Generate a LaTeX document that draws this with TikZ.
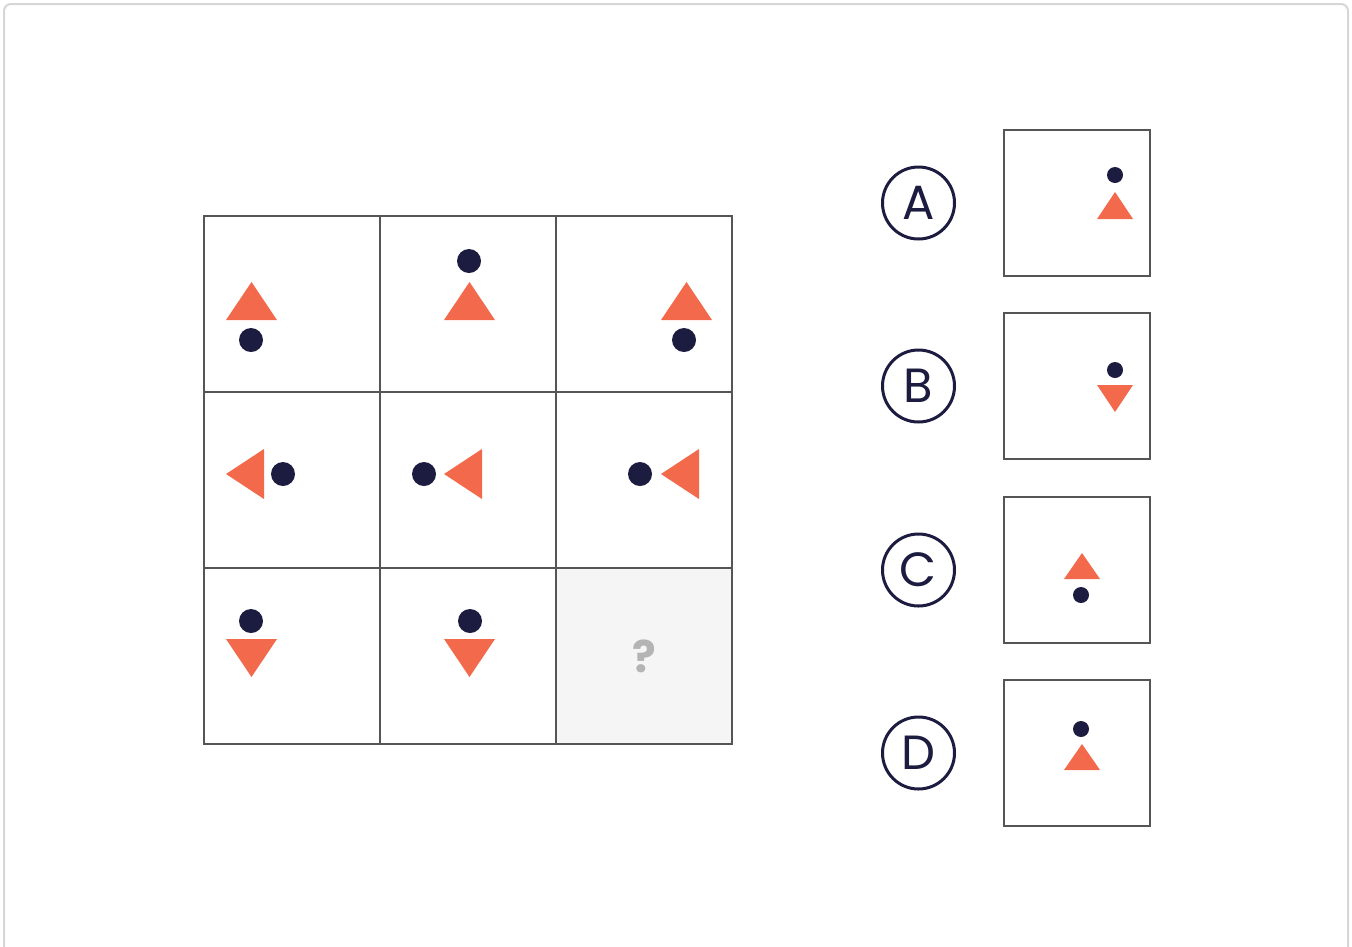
\documentclass[tikz,border=0pt]{standalone}
\usepackage{fontspec}
\setmainfont{Poppins}
\usepackage{xcolor}
\usepackage{tikz}
\usetikzlibrary{positioning, matrix}
\definecolor{cTRI}{HTML}{F26A4B}
\definecolor{cDOT}{HTML}{1C1B40}
\definecolor{cLINE}{HTML}{555555}
\definecolor{cBLANK}{HTML}{F5F5F5}
\definecolor{cMARK}{HTML}{B4B4B4}
\definecolor{cFRAME}{HTML}{D6D6D6}

\begin{document}
\begin{tikzpicture}[x=1pt, y=-1pt,
  tri/.style={fill=cTRI},
  dot/.style={fill=cDOT},
  answerbox/.style={draw=cLINE, line width=2pt, minimum size=146pt, inner sep=0pt},
  letter/.style={circle, draw=cDOT, line width=3pt, minimum size=72pt, inner sep=0pt,
    text=cDOT, font=\fontsize{48}{48}\selectfont},
]
\useasboundingbox (0,0) rectangle (1352,946);
\draw[cFRAME, line width=2pt, rounded corners=7pt] (4,4) rectangle (1348,980);

% puzzle grid
\matrix (grid) [
  matrix of nodes, nodes in empty cells,
  anchor=north west, inner sep=0pt, outer sep=0pt,
  nodes={draw=cLINE, line width=2pt, minimum width=176pt, minimum height=176pt,
    inner sep=0pt, outer sep=0pt, anchor=center},
  row sep=-2pt, column sep=-2pt,
] at (203,215) {
  & & \\
  & & \\
  & & |[fill=cBLANK, text=cMARK, font=\fontsize{44}{44}\bfseries\selectfont]| ? \\
};

% row 1: triangles pointing up
\fill[tri] (226,320) -- (277,320) -- (251.5,282) -- cycle;
\fill[dot] (251,340) circle (12);
\fill[tri] (444,320) -- (495,320) -- (469.5,282) -- cycle;
\fill[dot] (469,261) circle (12);
\fill[tri] (661,320) -- (712,320) -- (686.5,282) -- cycle;
\fill[dot] (684,340) circle (12);
% row 2: triangles pointing left
\fill[tri] (226,474) -- (264,449) -- (264,499) -- cycle;
\fill[dot] (283,474) circle (12);
\fill[tri] (444,474) -- (482,449) -- (482,499) -- cycle;
\fill[dot] (424,474) circle (12);
\fill[tri] (661,474) -- (699,449) -- (699,499) -- cycle;
\fill[dot] (640,474) circle (12);
% row 3: triangles pointing down
\fill[tri] (226,639) -- (277,639) -- (251.5,677) -- cycle;
\fill[dot] (251,621) circle (12);
\fill[tri] (444,639) -- (495,639) -- (469.5,677) -- cycle;
\fill[dot] (470,621) circle (12);

% answer options
\node[answerbox] (boxA) at (1077,203) {};
\node[answerbox] (boxB) at (1077,386) {};
\node[answerbox] (boxC) at (1077,570) {};
\node[answerbox] (boxD) at (1077,753) {};
\node[letter, left=47pt of boxA] (optA) {A};
\node[letter, left=47pt of boxB] (optB) {B};
\node[letter, left=47pt of boxC] (optC) {C};
\node[letter, left=47pt of boxD] (optD) {D};

\fill[dot] (1115,175) circle (8);
\fill[tri] (1097,219) -- (1133,219) -- (1115,192) -- cycle;
\fill[dot] (1115,370) circle (8);
\fill[tri] (1097,385) -- (1133,385) -- (1115,412) -- cycle;
\fill[tri] (1064,579) -- (1100,579) -- (1082,553) -- cycle;
\fill[dot] (1081,595) circle (8);
\fill[dot] (1081,729) circle (8);
\fill[tri] (1064,770) -- (1100,770) -- (1082,744) -- cycle;
\end{tikzpicture}
\end{document}
